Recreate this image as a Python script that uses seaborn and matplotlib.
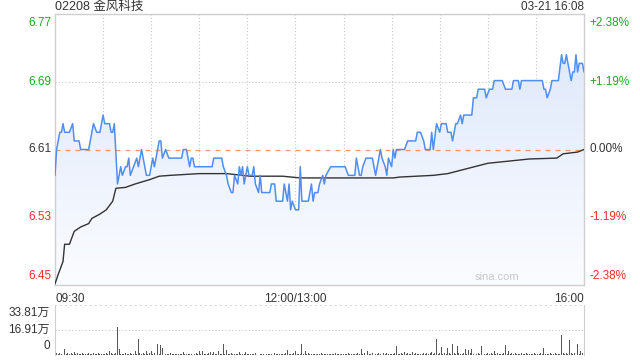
import numpy as np
import pandas as pd
import matplotlib
matplotlib.use('Agg')
import matplotlib.pyplot as plt
import seaborn as sns
from matplotlib.colors import LinearSegmentedColormap

# ─── DATA ─────────────────────────────────────────────────────────────────────
TITLE = '02208 金风科技'
STAMP = '03-21 16:08'
PREV_CLOSE = 6.61

# trading minutes since 09:30 (lunch break removed) and last price
price_min = [0, 1, 3, 4, 5, 6, 9, 11, 12, 15, 16, 21, 24, 26, 28, 30, 31, 34, 35, 36,
             37, 39, 40, 41, 42, 44, 45, 46, 47, 49, 51, 52, 54, 56, 57, 59, 61, 62, 64, 65,
             66, 67, 69, 71, 79, 80, 82, 84, 85, 86, 87, 98, 99, 104, 105, 107, 108, 110, 111, 112,
             114, 115, 116, 117, 118, 120, 121, 123, 124, 125, 127, 128, 129, 134, 135, 137, 138, 142, 143, 145,
             146, 147, 148, 150, 152, 153, 154, 158, 160, 161, 162, 164, 165, 167, 168, 169, 172, 181, 183, 187,
             188, 190, 191, 192, 194, 198, 200, 201, 203, 204, 206, 207, 208, 210, 211, 212, 213, 218, 220, 225,
             226, 228, 230, 231, 234, 235, 236, 238, 240, 241, 244, 245, 247, 248, 250, 251, 253, 254, 255, 260,
             261, 263, 264, 268, 269, 271, 273, 274, 279, 281, 285, 286, 289, 290, 291, 304, 305, 306, 307, 309,
             310, 314, 316, 317, 318, 319, 321, 322, 323, 324, 325, 326, 327, 329, 330]
price = [6.58, 6.61, 6.63, 6.63, 6.64, 6.63, 6.63, 6.64, 6.62, 6.62, 6.61, 6.61, 6.64, 6.63, 6.63, 6.65, 6.64, 6.64, 6.63, 6.63,
         6.64, 6.57, 6.58, 6.59, 6.58, 6.59, 6.59, 6.60, 6.58, 6.59, 6.60, 6.59, 6.61, 6.59, 6.58, 6.58, 6.60, 6.59, 6.61, 6.62,
         6.62, 6.60, 6.61, 6.60, 6.60, 6.61, 6.61, 6.59, 6.60, 6.60, 6.59, 6.59, 6.60, 6.60, 6.59, 6.58, 6.57, 6.56, 6.56, 6.58,
         6.57, 6.59, 6.58, 6.59, 6.57, 6.59, 6.58, 6.58, 6.59, 6.57, 6.56, 6.58, 6.56, 6.56, 6.57, 6.57, 6.55, 6.55, 6.57, 6.55,
         6.57, 6.54, 6.55, 6.54, 6.54, 6.59, 6.55, 6.55, 6.57, 6.55, 6.56, 6.56, 6.57, 6.58, 6.57, 6.58, 6.59, 6.59, 6.58, 6.58,
         6.60, 6.58, 6.58, 6.59, 6.60, 6.60, 6.58, 6.59, 6.61, 6.60, 6.59, 6.58, 6.60, 6.59, 6.61, 6.60, 6.61, 6.61, 6.62, 6.62,
         6.63, 6.63, 6.62, 6.61, 6.61, 6.63, 6.61, 6.64, 6.63, 6.64, 6.64, 6.63, 6.63, 6.62, 6.64, 6.64, 6.65, 6.64, 6.65, 6.65,
         6.67, 6.67, 6.68, 6.68, 6.67, 6.68, 6.68, 6.69, 6.69, 6.68, 6.68, 6.69, 6.69, 6.68, 6.69, 6.69, 6.68, 6.68, 6.67, 6.68,
         6.69, 6.69, 6.72, 6.71, 6.71, 6.72, 6.70, 6.69, 6.70, 6.70, 6.72, 6.70, 6.71, 6.71, 6.70]

# running average price
avg_min = [0, 2, 3, 5, 6, 9, 12, 16, 21, 23, 28, 32, 36, 38, 44, 50, 59, 65, 72, 90,
           107, 122, 142, 153, 184, 211, 215, 236, 245, 270, 296, 313, 317, 326, 330]
avg_price = [6.454, 6.465, 6.470, 6.480, 6.500, 6.500, 6.515, 6.520, 6.524, 6.530,
             6.535, 6.540, 6.550, 6.565, 6.566, 6.570, 6.575, 6.579, 6.580, 6.582,
             6.582, 6.579, 6.579, 6.577, 6.577, 6.577, 6.578, 6.580, 6.582, 6.594,
             6.599, 6.600, 6.605, 6.607, 6.610]

# volume per minute, in 万 shares
volume = [33.5, 1.2, 0.8, 1.5, 0.6, 1.0, 4.0, 0.9, 1.3, 0.7,
          1.1, 0.6, 2.0, 0.8, 1.4, 0.5, 1.0, 1.2, 0.6, 0.9,
          0.7, 1.3, 0.5, 0.8, 1.1, 0.4, 0.9, 1.6, 0.6, 0.8,
          1.0, 0.5, 1.2, 0.7, 3.0, 1.1, 0.6, 0.9, 1.4, 18.9,
          4.0, 0.8, 1.0, 0.6, 1.3, 0.7, 0.5, 1.1, 0.9, 0.6,
          3.0, 0.8, 10.8, 1.2, 0.7, 1.5, 0.9, 3.0, 0.6, 1.1,
          3.0, 0.8, 1.6, 0.7, 7.5, 1.0, 7.0, 4.5, 1.2, 0.6,
          0.9, 0.5, 1.1, 0.7, 0.4, 0.8, 1.0, 0.5, 0.7, 0.6,
          2.0, 0.5, 0.9, 0.4, 1.0, 0.6, 0.3, 0.8, 1.2, 0.5,
          2.5, 0.7, 2.5, 0.4, 0.9, 0.6, 1.1, 2.0, 0.5, 2.0,
          0.8, 0.4, 2.5, 0.7, 1.0, 7.5, 0.6, 3.5, 0.9, 0.5,
          1.2, 0.4, 0.8, 0.6, 1.0, 2.0, 0.5, 0.9, 0.7, 2.0,
          0.6, 1.0, 0.4, 0.8, 0.5, 1.1, 0.7, 0.3, 0.9, 0.6,
          0.8, 0.4, 1.0, 0.5, 0.7, 0.9, 0.4, 1.2, 0.6, 0.8,
          0.5, 1.0, 0.7, 0.4, 1.1, 3.5, 0.6, 0.9, 0.5, 1.3,
          2.5, 0.7, 1.0, 0.6, 7.5, 0.8, 3.0, 0.5, 1.1, 0.7,
          0.9, 0.4, 1.0, 0.6, 0.8, 0.5, 1.2, 0.7, 0.4, 0.9,
          0.6, 1.0, 0.5, 0.8, 0.7, 1.1, 0.4, 0.9, 0.6, 1.0,
          0.5, 0.8, 0.7, 1.2, 0.4, 0.9, 0.6, 1.0, 0.5, 1.3,
          0.8, 4.0, 0.6, 1.1, 0.7, 3.0, 0.5, 0.9, 1.2, 0.6,
          1.0, 0.7, 1.4, 0.5, 0.9, 1.1, 0.6, 1.3, 0.8, 0.5,
          1.0, 0.7, 1.2, 6.0, 0.9, 0.6, 1.3, 0.8, 2.0, 0.7,
          1.1, 0.5, 0.9, 2.0, 0.6, 1.2, 0.8, 0.5, 1.0, 0.7,
          1.4, 0.6, 1.1, 0.8, 1.5, 2.0, 0.7, 1.2, 10.8, 0.9,
          1.3, 5.5, 0.8, 1.6, 0.7, 5.0, 1.1, 0.6, 7.5, 1.2,
          0.9, 6.0, 1.4, 0.7, 1.0, 1.3, 4.0, 0.8, 3.5, 1.1,
          4.0, 0.6, 1.2, 0.9, 1.5, 0.7, 6.0, 3.0, 1.0, 0.8,
          1.3, 0.6, 1.1, 0.9, 3.0, 0.7, 1.2, 0.5, 1.0, 0.8,
          1.4, 6.5, 0.9, 3.0, 0.6, 1.1, 0.8, 1.3, 0.5, 1.0,
          0.7, 1.2, 0.6, 0.9, 1.1, 0.5, 0.8, 1.0, 0.6, 1.3,
          0.7, 0.9, 0.5, 1.2, 0.8, 4.5, 0.6, 1.0, 0.7, 1.1,
          0.5, 0.9, 1.3, 0.6, 1.0, 0.8, 13.5, 1.2, 0.7, 1.5,
          0.9, 10.1, 1.1, 0.6, 1.4, 0.8, 7.5, 1.0, 2.5, 1.3,
          10.1]

price_labels = ['6.45', '6.53', '6.61', '6.69', '6.77']
pct_labels = ['-2.38%', '-1.19%', '0.00%', '+1.19%', '+2.38%']
vol_labels = ['0', '16.91万', '33.81万']
x_labels = ['09:30', '12:00/13:00', '16:00']

# ─── STYLE ────────────────────────────────────────────────────────────────────
sns.set_style('white')
plt.rcParams['font.family'] = ['Liberation Sans', 'Noto Sans CJK SC', 'DejaVu Sans']

GREEN, RED, DARK = '#1fa81f', '#ee2d2d', '#333333'
LINE_BLUE = '#4f8ef2'
GRID = '#c8c8c8'
FRAME = '#cfcfcf'
label_colors = [RED, RED, DARK, GREEN, GREEN]

N_MIN = 330
ylo, yhi = PREV_CLOSE * (1 - 0.0238), PREV_CLOSE * (1 + 0.0238)
ytick_pos = np.linspace(ylo, yhi, 5)

fig = plt.figure(figsize=(6.4, 3.6), dpi=100)
ax = fig.add_axes([55 / 640, 1 - 285 / 360, 529 / 640, 271 / 360])
axv = fig.add_axes([55 / 640, 1 - 355 / 360, 529 / 640, 50 / 360])

df = pd.DataFrame({'minute': price_min, 'price': price})
df_avg = pd.DataFrame({'minute': avg_min, 'avg': avg_price})

# ─── PRICE PANEL ──────────────────────────────────────────────────────────────
ax.set_xlim(0, N_MIN)
ax.set_ylim(ylo, yhi)

for xm in range(30, N_MIN, 30):
    ax.axvline(xm, color=GRID, lw=0.8, ls=(0, (1, 2)), zorder=0)
for yv in (ytick_pos[1], ytick_pos[3]):
    ax.axhline(yv, color=GRID, lw=0.8, ls=(0, (1, 2)), zorder=0)

# gradient fill under the price line
poly = ax.fill_between(df['minute'], df['price'], ylo, color='none', lw=0)
cmap = LinearSegmentedColormap.from_list('fill', ['#fbfcff', '#dbe6fa'])
grad = np.linspace(0, 1, 256).reshape(-1, 1)
im = ax.imshow(grad, extent=[0, N_MIN, ylo, yhi], origin='lower', aspect='auto',
               cmap=cmap, zorder=1)
im.set_clip_path(poly.get_paths()[0], transform=ax.transData)

ax.axhline(PREV_CLOSE, color='#f29a6c', lw=0.9, ls=(0, (4, 4)), zorder=2)

sns.lineplot(data=df, x='minute', y='price', ax=ax, color=LINE_BLUE, lw=1.1,
             zorder=4, estimator=None)
sns.lineplot(data=df_avg, x='minute', y='avg', ax=ax, color=DARK, lw=1.0,
             zorder=3, estimator=None)

ax.set_xlabel(''); ax.set_ylabel('')
ax.set_yticks([]); ax.set_xticks([])
for s in ax.spines.values():
    s.set_color(FRAME); s.set_linewidth(1.0)

ytr = ax.get_yaxis_transform()
for i, (yv, lab, pct) in enumerate(zip(ytick_pos, price_labels, pct_labels)):
    va = 'bottom' if i == 0 else ('top' if i == 4 else 'center')
    off = 0.004 if i == 0 else (-0.004 if i == 4 else 0)
    ax.text(-0.006, yv + off, lab, transform=ytr, ha='right', va=va,
            color=label_colors[i], fontsize=8.5)
    ax.text(1.01, yv + off, pct, transform=ytr, ha='left', va=va,
            color=label_colors[i], fontsize=8.5)

xtr = ax.get_xaxis_transform()
for xm, lab, ha in zip([0, 150, N_MIN], x_labels, ['left', 'center', 'right']):
    ax.text(xm, -0.028, lab, transform=xtr, ha=ha, va='top', color=DARK, fontsize=8.5)

ax.text(N_MIN - 54, ylo + 0.004, 'sina.com', color='#c8c8c8', fontsize=8,
        ha='center', va='bottom', zorder=5)

fig.text(55 / 640, 1 - 7 / 360, TITLE, ha='left', va='center', color=DARK, fontsize=9)
fig.text(584 / 640, 1 - 7 / 360, STAMP, ha='right', va='center', color=DARK, fontsize=8.5)

# ─── VOLUME PANEL ─────────────────────────────────────────────────────────────
vol_max = 33.81
axv.bar(np.arange(len(volume)), volume, width=0.6, color='#555555', lw=0)
axv.set_xlim(0, N_MIN)
axv.set_ylim(0, vol_max)
axv.axhline(vol_max / 2, color=GRID, lw=0.8, ls=(0, (1, 2)))
axv.axhline(vol_max, color=GRID, lw=1.2, ls=(0, (1, 2)))
axv.set_xticks([]); axv.set_yticks([])
for side in ('top', 'bottom'):
    axv.spines[side].set_visible(False)
for side in ('left', 'right'):
    axv.spines[side].set_color(FRAME)

vtr = axv.get_yaxis_transform()
for yv, lab, va in zip([0, vol_max / 2, vol_max], vol_labels, ['bottom', 'center', 'top']):
    axv.text(-0.01, yv + (2 if va == 'bottom' else (-1.5 if va == 'top' else 0)), lab,
             transform=vtr, ha='right', va=va, color=DARK, fontsize=8.5)

fig.savefig('out.png', dpi=100)
